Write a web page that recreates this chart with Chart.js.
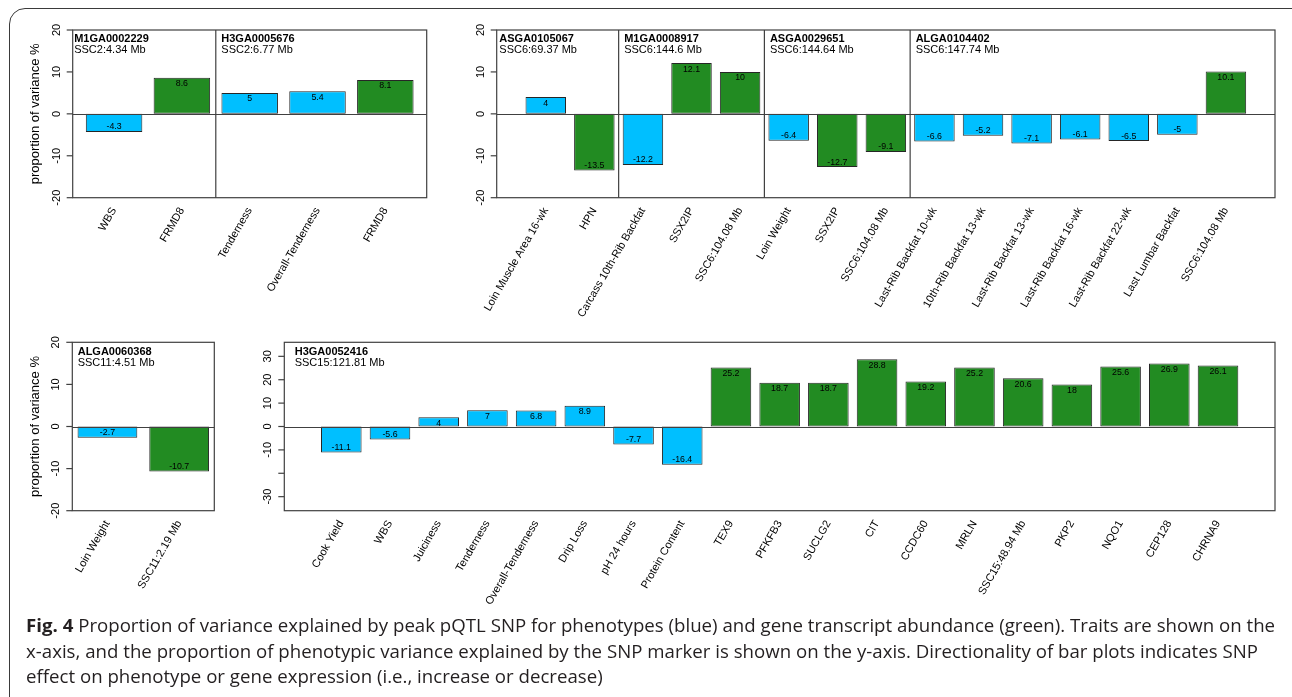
<!DOCTYPE html>
<html>
<head>
<meta charset="utf-8">
<title>Fig. 4 – proportion of variance explained by peak pQTL SNP</title>
<script src="https://cdn.jsdelivr.net/npm/chart.js@4.4.1/dist/chart.umd.min.js"></script>
<style>
  html, body { margin: 0; padding: 0; background: #fff; }
  #fig { position: relative; width: 1292px; height: 697px; overflow: hidden; background: #fff; }
  #fig canvas { position: absolute; left: 0; top: 0; }
  #border { position: absolute; left: 9px; top: 8px; width: 1330px; height: 740px;
            border: 1.5px solid #3a3a3a; border-radius: 16px; box-sizing: border-box; }
  #caption { position: absolute; left: 26px; top: 613px; font-family: 'Open Sans', sans-serif;
             font-size: 18px; line-height: 25.5px; color: #231f20; white-space: nowrap;
             transform-origin: 0 0; }
  #caption b { font-weight: 700; }
</style>
</head>
<body>
<div id="fig">
  <div id="border"></div>
  <canvas id="panelA" width="1292" height="697"></canvas>
  <canvas id="panelB" width="1292" height="697"></canvas>
  <canvas id="panelC" width="1292" height="697"></canvas>
  <canvas id="panelD" width="1292" height="697"></canvas>
  <div id="caption"><span id="capLine1"><b>Fig. 4</b> Proportion of variance explained by peak pQTL SNP for phenotypes (blue) and gene transcript abundance (green). Traits are shown on the</span><br>x-axis, and the proportion of phenotypic variance explained by the SNP marker is shown on the y-axis. Directionality of bar plots indicates SNP<br>effect on phenotype or gene expression (i.e., increase or decrease)</div>
</div>
<script>
// ---- Panel A: SSC2 markers ----
const traitsA  = ['WBS', 'FRMD8', 'Tenderness', 'Overall-Tenderness', 'FRMD8'];
const valuesA  = [-4.3, 8.6, 5, 5.4, 8.1];
const kindsA   = ['pheno', 'gene', 'pheno', 'pheno', 'gene'];
const snpsA    = ['M1GA0002229', 'H3GA0005676'];
const locsA    = ['SSC2:4.34 Mb', 'SSC2:6.77 Mb'];
const groupsA  = [2, 3];

// ---- Panel B: SSC6 markers ----
const traitsB  = ['Loin Muscle Area 16-wk', 'HPN', 'Carcass 10th-Rib Backfat', 'SSX2IP', 'SSC6:104.08 Mb',
                  'Loin Weight', 'SSX2IP', 'SSC6:104.08 Mb', 'Last-Rib Backfat 10-wk', '10th-Rib Backfat 13-wk',
                  'Last-Rib Backfat 13-wk', 'Last-Rib Backfat 16-wk', 'Last-Rib Backfat 22-wk',
                  'Last Lumbar Backfat', 'SSC6:104.08 Mb'];
const valuesB  = [4, -13.5, -12.2, 12.1, 10, -6.4, -12.7, -9.1, -6.6, -5.2, -7.1, -6.1, -6.5, -5, 10.1];
const kindsB   = ['pheno', 'gene', 'pheno', 'gene', 'gene', 'pheno', 'gene', 'gene',
                  'pheno', 'pheno', 'pheno', 'pheno', 'pheno', 'pheno', 'gene'];
const snpsB    = ['ASGA0105067', 'M1GA0008917', 'ASGA0029651', 'ALGA0104402'];
const locsB    = ['SSC6:69.37 Mb', 'SSC6:144.6 Mb', 'SSC6:144.64 Mb', 'SSC6:147.74 Mb'];
const groupsB  = [2, 3, 3, 7];

// ---- Panel C: SSC11 marker ----
const traitsC  = ['Loin Weight', 'SSC11:2.19 Mb'];
const valuesC  = [-2.7, -10.7];
const kindsC   = ['pheno', 'gene'];
const snpsC    = ['ALGA0060368'];
const locsC    = ['SSC11:4.51 Mb'];
const groupsC  = [2];

// ---- Panel D: SSC15 marker ----
const traitsD  = ['Cook Yield', 'WBS', 'Juiciness', 'Tenderness', 'Overall-Tenderness', 'Drip Loss',
                  'pH 24 hours', 'Protein Content', 'TEX9', 'PFKFB3', 'SUCLG2', 'CIT', 'CCDC60', 'MRLN',
                  'SSC15:48.94 Mb', 'PKP2', 'NQO1', 'CEP128', 'CHRNA9'];
const valuesD  = [-11.1, -5.6, 4, 7, 6.8, 8.9, -7.7, -16.4, 25.2, 18.7, 18.7, 28.8, 19.2, 25.2, 20.6,
                  18, 25.6, 26.9, 26.1];
const kindsD   = ['pheno', 'pheno', 'pheno', 'pheno', 'pheno', 'pheno', 'pheno', 'pheno',
                  'gene', 'gene', 'gene', 'gene', 'gene', 'gene', 'gene', 'gene', 'gene', 'gene', 'gene'];
const snpsD    = ['H3GA0052416'];
const locsD    = ['SSC15:121.81 Mb'];
const groupsD  = [19];

// ---- y axes ----
const yTicks20       = [-20, -10, 0, 10, 20];
const yTickLabels20  = ['-20', '-10', '0', '10', '20'];
const yTicks30       = [-30, -20, -10, 0, 10, 20, 30];
const yTickLabels30  = ['-30', '', '-10', '0', '10', '20', '30'];
const yTitle = 'proportion of variance %';

// ---- styling ----
const FILL = { pheno: '#00BFFF', gene: '#228B22' };
const BAR_EDGE = '#262626';
const LINE = '#404040';
const FONT = "'Liberation Sans', Arial, Helvetica, sans-serif";
const PAGE_W = 1292, PAGE_H = 697;
const X_AXIS_H = 130;

// Frame of each plot region (page pixels), like an R barplot box.
const layout = {
  A: { left: 72.7, right: 426.7, top: 30, bottom: 197.7, yMin: -20, yMax: 20, tagInset: 1.5, title: true },
  B: { left: 496.7, right: 1275, top: 30, bottom: 197.7, yMin: -20, yMax: 20, tagInset: 2.6, title: false },
  C: { left: 72.3, right: 214.3, top: 342.3, bottom: 510.7, yMin: -20, yMax: 20, tagInset: 5.4, title: true },
  D: { left: 284.3, right: 1275, top: 342.3, bottom: 510.7, yMin: -36, yMax: 36, tagInset: 10.4, title: false }
};

// Draws the R-style box, zero line, marker dividers, marker tags,
// y ticks with vertical labels and the in-bar value labels.
const rDecor = {
  id: 'rDecor',
  afterDatasetsDraw(chart, args, o) {
    const ctx = chart.ctx;
    const fr = o.frame;
    const x = chart.scales.x, y = chart.scales.y;
    ctx.save();

    // value labels
    ctx.fillStyle = '#000';
    ctx.font = '8.8px ' + FONT;
    ctx.textAlign = 'center';
    ctx.textBaseline = 'middle';
    o.values.forEach((v, i) => {
      const px = x.getPixelForValue(i);
      const py = y.getPixelForValue(v);
      ctx.fillText(String(v), px, v >= 0 ? py + 6 : py - 5);
    });

    ctx.strokeStyle = LINE;
    ctx.lineWidth = 1.2;
    // zero line
    const y0 = Math.round(y.getPixelForValue(0)) + 0.5;
    ctx.beginPath(); ctx.moveTo(fr.left, y0); ctx.lineTo(fr.right, y0); ctx.stroke();

    // dividers between markers + marker tags
    let start = 0;
    o.groups.forEach((g, gi) => {
      let tx;
      if (gi === 0) {
        tx = fr.left + fr.tagInset;
      } else {
        const xd = (x.getPixelForValue(start - 1) + x.getPixelForValue(start)) / 2;
        ctx.beginPath(); ctx.moveTo(xd, fr.top); ctx.lineTo(xd, fr.bottom); ctx.stroke();
        tx = xd + 5.5;
      }
      ctx.fillStyle = '#000';
      ctx.textAlign = 'left';
      ctx.textBaseline = 'middle';
      ctx.font = 'bold 11px ' + FONT;
      ctx.fillText(o.snps[gi], tx, fr.top + 9.4);
      ctx.font = '11px ' + FONT;
      ctx.fillText(o.locs[gi], tx, fr.top + 20.2);
      start += g;
    });

    // box
    ctx.strokeRect(fr.left, fr.top, fr.right - fr.left, fr.bottom - fr.top);

    // y axis ticks and vertical labels
    ctx.font = '11px ' + FONT;
    ctx.fillStyle = '#000';
    ctx.textAlign = 'center';
    ctx.textBaseline = 'middle';
    o.yTicks.forEach((t, i) => {
      const py = y.getPixelForValue(t);
      ctx.beginPath(); ctx.moveTo(fr.left - 6, py); ctx.lineTo(fr.left, py); ctx.stroke();
      if (o.yLabels[i]) {
        ctx.save();
        ctx.translate(fr.left - 16, py);
        ctx.rotate(-Math.PI / 2);
        ctx.fillText(o.yLabels[i], 0, 0);
        ctx.restore();
      }
    });

    // y axis title
    if (fr.title) {
      ctx.save();
      ctx.font = '13px ' + FONT;
      ctx.translate(35, (fr.top + fr.bottom) / 2);
      ctx.rotate(-Math.PI / 2);
      ctx.fillText(yTitle, 0, 0);
      ctx.restore();
    }
    ctx.restore();
  }
};

function barPanel(canvasId, fr, traits, values, kinds, snps, locs, groups, yTicks, yLabels) {
  // R barplot geometry: bar width 1, space 0.2, x range padded by 4 %.
  const n = traits.length;
  const span = 1.2 * n - 0.2;
  const pad = 0.04 * span;
  const unit = (fr.right - fr.left) / (span + 2 * pad);
  const inset = (pad - 0.1) * unit;
  const areaLeft = fr.left + inset;
  const areaRight = fr.right - inset;

  return new Chart(document.getElementById(canvasId), {
    type: 'bar',
    data: {
      labels: traits,
      datasets: [{
        data: values,
        backgroundColor: kinds.map(k => FILL[k]),
        borderColor: BAR_EDGE,
        borderWidth: 1,
        borderSkipped: false,
        categoryPercentage: 1,
        barPercentage: 1 / 1.2
      }]
    },
    options: {
      responsive: false,
      animation: false,
      devicePixelRatio: 1,
      events: [],
      layout: {
        padding: {
          left: areaLeft,
          right: PAGE_W - areaRight,
          top: fr.top,
          bottom: PAGE_H - fr.bottom - X_AXIS_H
        }
      },
      plugins: {
        legend: { display: false },
        tooltip: { enabled: false },
        rDecor: { frame: fr, values, groups, snps, locs, yTicks, yLabels }
      },
      scales: {
        x: {
          type: 'category',
          grid: { display: false, drawTicks: false },
          border: { display: false },
          ticks: {
            autoSkip: false,
            minRotation: 60,
            maxRotation: 60,
            padding: 7.5,
            color: '#000',
            font: { family: FONT, size: 11 }
          },
          afterFit(s) { s.height = X_AXIS_H; }
        },
        y: {
          display: false,
          min: fr.yMin,
          max: fr.yMax,
          afterBuildTicks(s) { s.ticks = yTicks.map(v => ({ value: v })); }
        }
      }
    },
    plugins: [rDecor]
  });
}

barPanel('panelA', layout.A, traitsA, valuesA, kindsA, snpsA, locsA, groupsA, yTicks20, yTickLabels20);
barPanel('panelB', layout.B, traitsB, valuesB, kindsB, snpsB, locsB, groupsB, yTicks20, yTickLabels20);
barPanel('panelC', layout.C, traitsC, valuesC, kindsC, snpsC, locsC, groupsC, yTicks20, yTickLabels20);
barPanel('panelD', layout.D, traitsD, valuesD, kindsD, snpsD, locsD, groupsD, yTicks30, yTickLabels30);

// Caption set in a narrow column width: squeeze the first line to its measure.
(function fitCaption() {
  const cap = document.getElementById('caption');
  const first = document.getElementById('capLine1');
  const w = first.getBoundingClientRect().width;
  if (w > 0) cap.style.transform = 'scaleX(' + (1249 / w).toFixed(4) + ')';
})();
</script>
</body>
</html>
